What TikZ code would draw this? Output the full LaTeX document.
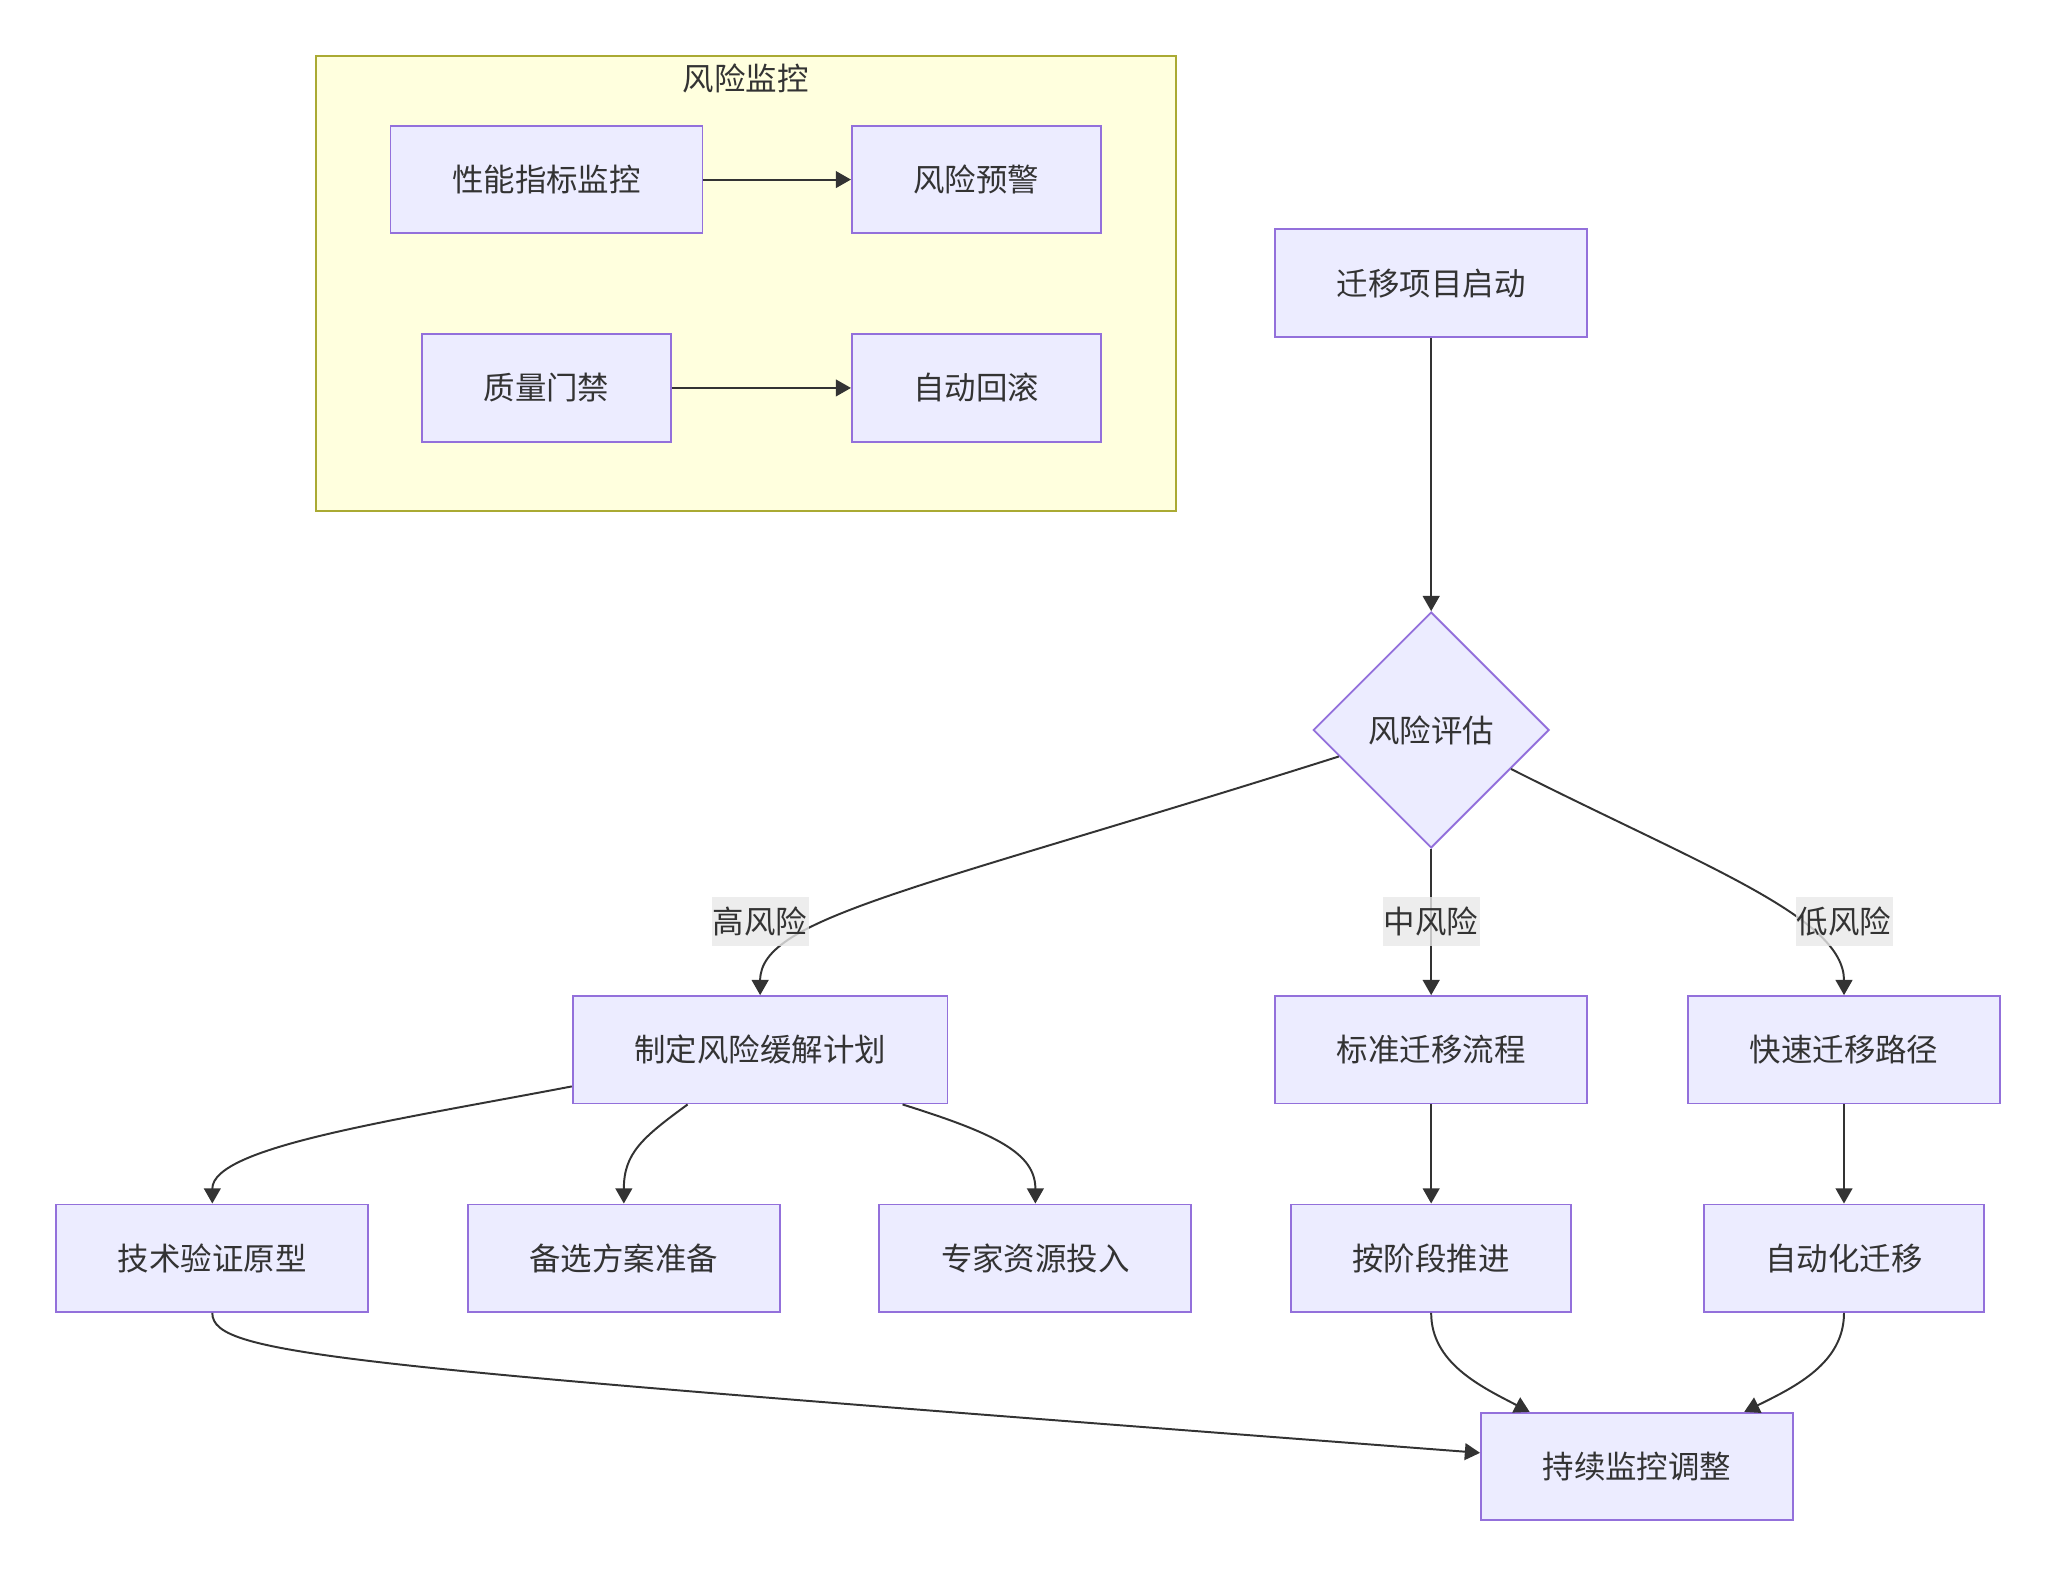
\documentclass[tikz,border=0pt]{standalone}
\usepackage{fontspec}
\setmainfont{Noto Sans CJK SC}
\usetikzlibrary{math,shapes.geometric,arrows.meta}

\definecolor{boxfill}{HTML}{ECECFF}
\definecolor{boxline}{HTML}{9370DB}
\definecolor{grpfill}{HTML}{FFFFDE}
\definecolor{grpline}{HTML}{AAAA33}
\definecolor{inkcol}{HTML}{333333}
\definecolor{lblfill}{HTML}{E8E8E8}

\tikzset{
  stepbox/.style={draw=boxline, fill=boxfill, line width=0.7pt, minimum height=41pt,
    inner xsep=23.5pt, text=inkcol, font=\fontsize{12}{14}\selectfont},
  decide/.style={diamond, aspect=1, draw=boxline, fill=boxfill, line width=0.7pt,
    minimum size=90pt, inner sep=0pt, text=inkcol, font=\fontsize{12}{14}\selectfont},
  edgelbl/.style={fill=lblfill, fill opacity=0.8, text opacity=1, text=inkcol,
    inner xsep=0.5pt, inner ysep=0pt, minimum height=18.5pt, font=\fontsize{12}{14}\selectfont},
  flow/.style={draw=inkcol, line width=0.75pt, -{Triangle[length=5.8pt,width=6.4pt]}},
}

\begin{document}
\begin{tikzpicture}[x=0.5pt, y=-0.5pt]
  \tikzmath{%
    \xa = 162; \xb = 476; \xc = 790; \xd = 1092; \xe = 1407;
    \ya = 216; \yb = 557; \yc = 801; \yd = 960; \ye = 1119; \yl = 703;
  }
  \useasboundingbox (0,0) rectangle (1568,1201.8);

  % risk monitoring group
  \draw[fill=grpfill, draw=grpline, line width=0.7pt] (241,43) rectangle (897,390);
  \node[text=inkcol, font=\fontsize{12}{14}\selectfont] (grptitle) at (569,60) {风险监控};
  \node[stepbox] (perf) at (417,137) {性能指标监控};
  \node[stepbox] (warn) at (745,137) {风险预警};
  \node[stepbox] (gate) at (417,296) {质量门禁};
  \node[stepbox] (roll) at (745,296) {自动回滚};
  \draw[flow] (perf) -- (warn);
  \draw[flow] (gate) -- (roll);

  % main flow
  \node[stepbox] (start) at (\xd,\ya) {迁移项目启动};
  \node[decide] (assess) at (\xd,\yb) {风险评估};
  \node[stepbox] (plan) at (580,\yc) {制定风险缓解计划};
  \node[stepbox] (std) at (\xd,\yc) {标准迁移流程};
  \node[stepbox] (fast) at (\xe,\yc) {快速迁移路径};
  \node[stepbox] (proto) at (\xa,\yd) {技术验证原型};
  \node[stepbox] (backup) at (\xb,\yd) {备选方案准备};
  \node[stepbox] (expert) at (\xc,\yd) {专家资源投入};
  \node[stepbox] (phase) at (\xd,\yd) {按阶段推进};
  \node[stepbox] (auto) at (\xe,\yd) {自动化迁移};
  \node[stepbox] (keep) at (1249,\ye) {持续监控调整};

  \draw[flow] (start) -- (assess);
  \draw[flow] (assess.196) .. controls (700,679) and (580,700) .. (plan.north);
  \draw[flow] (assess) -- (std);
  \draw[flow] (assess.-26) .. controls (1300,661) and (\xe,700) .. (fast.north);
  \draw[flow] (plan.191) .. controls (300,855) and (\xa,875) .. (proto.north);
  \draw[flow] (plan.217) .. controls (490,868) and (\xb,880) .. (backup.north);
  \draw[flow] (plan.-21) .. controls (760,865) and (\xc,880) .. (expert.north);
  \draw[flow] (std) -- (phase);
  \draw[flow] (fast) -- (auto);
  \draw[flow] (proto.south) .. controls (\xa,1035) and (260,1042) .. (keep.175);
  \draw[flow] (phase.south) .. controls (\xd,1040) and (1130,1058) .. (keep.153);
  \draw[flow] (auto.south) .. controls (\xe,1040) and (1370,1058) .. (keep.27);

  \node[edgelbl] (lhigh) at (580,\yl) {高风险};
  \node[edgelbl] (lmid) at (\xd,\yl) {中风险};
  \node[edgelbl] (llow) at (\xe,\yl) {低风险};
\end{tikzpicture}
\end{document}
